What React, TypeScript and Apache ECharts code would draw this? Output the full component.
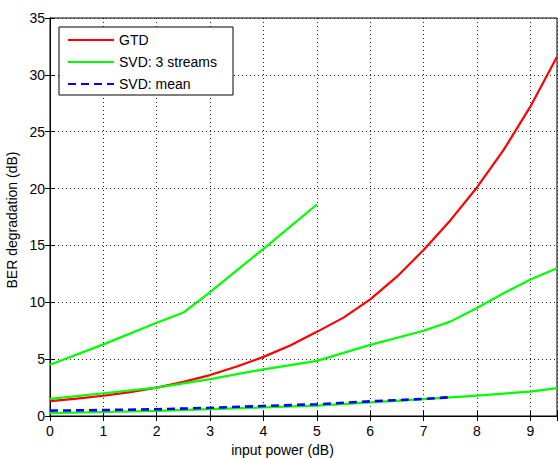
import React, { useEffect, useRef } from "react";
import * as echarts from "echarts";

const gtdX = [0, 0.5, 1, 1.5, 2, 2.5, 3, 3.5, 4, 4.5, 5, 5.5, 6, 6.5, 7, 7.5, 8, 8.5, 9, 9.5];
const gtdY = [1.3, 1.52, 1.78, 2.1, 2.5, 3.0, 3.6, 4.35, 5.2, 6.2, 7.4, 8.65, 10.25, 12.25, 14.6, 17.2, 20.1, 23.4, 27.2, 31.6];

const s1X = [0, 1, 2, 2.5, 3, 3.5, 4, 4.5, 5];
const s1Y = [4.5, 6.3, 8.2, 9.1, 10.9, 12.8, 14.7, 16.65, 18.6];

const s2X = [0, 1, 2, 3, 4, 5, 6, 7, 7.5, 8, 8.5, 9, 9.5];
const s2Y = [1.5, 2.0, 2.5, 3.25, 4.1, 4.85, 6.25, 7.5, 8.3, 9.5, 10.8, 12.0, 13.0];

const s3X = [0, 1, 2, 3, 4, 5, 6, 7, 8, 9, 9.5];
const s3Y = [0.25, 0.35, 0.45, 0.6, 0.75, 0.92, 1.2, 1.48, 1.8, 2.15, 2.45];

const meanX = [0, 1, 2, 3, 4, 5, 6, 7, 7.5];
const meanY = [0.47, 0.52, 0.59, 0.72, 0.88, 1.03, 1.29, 1.5, 1.65];

const xTicks = [0, 1, 2, 3, 4, 5, 6, 7, 8, 9];
const legendNames = ["GTD", "SVD: 3 streams", "SVD: mean"];

const pairs = (xs: number[], ys: number[]) => xs.map((x, i) => [x, ys[i]]);

const FONT = "'Liberation Sans', Arial, Helvetica, sans-serif";
const FS = 14;

export default function App() {
  const ref = useRef<HTMLDivElement>(null);
  useEffect(() => {
    if (!ref.current) return;
    const chart = echarts.init(ref.current, null, { renderer: "svg" });
    const gridLine = { show: true, lineStyle: { color: "#222", width: 1, type: [1, 3] as any } };
    const green = { color: "#00ff00", width: 2.2 };
    const tick = { show: true, inside: true, length: 5, lineStyle: { color: "#000" } };
    chart.setOption({
      animation: false,
      backgroundColor: "#fff",
      textStyle: { fontFamily: FONT },
      grid: {
        left: 50,
        right: 1,
        top: 18,
        bottom: 42,
        containLabel: false,
        outerBoundsMode: "none",
        show: true,
        borderColor: "#000",
        borderWidth: 1,
        backgroundColor: "#fff",
      },
      legend: {
        data: legendNames,
        orient: "vertical",
        left: 59,
        top: 27,
        itemWidth: 46,
        itemHeight: 14,
        itemGap: 8,
        padding: [6, 16, 4, 8],
        itemStyle: { opacity: 0 },
        backgroundColor: "#fff",
        borderColor: "#000",
        borderWidth: 1,
        borderRadius: 0,
        textStyle: { fontFamily: FONT, fontSize: FS, color: "#000" },
      },
      xAxis: [
        {
          type: "value",
          min: 0,
          max: 9.5,
          interval: 1,
          name: "input power (dB)",
          nameLocation: "middle",
          nameGap: 27,
          nameTextStyle: { fontFamily: FONT, fontSize: FS, color: "#000", padding: [0, 42, 0, 0] },
          axisLine: { show: true, lineStyle: { color: "#000" } },
          axisTick: tick,
          axisLabel: {
            color: "#000",
            fontSize: FS,
            fontFamily: FONT,
            margin: 8,
            formatter: (v: number) => (xTicks.includes(v) ? String(v) : ""),
          },
          splitLine: gridLine,
        },
        {
          type: "value",
          position: "top",
          min: 0,
          max: 9.5,
          interval: 1,
          axisLine: { show: true, lineStyle: { color: "#000" } },
          axisTick: tick,
          axisLabel: { show: false },
          splitLine: { show: false },
        },
      ],
      yAxis: [
        {
          type: "value",
          min: 0,
          max: 35,
          interval: 5,
          name: "BER degradation (dB)",
          nameLocation: "middle",
          nameGap: 27,
          nameTextStyle: { fontFamily: FONT, fontSize: FS, color: "#000", padding: [0, 6, 0, 0] },
          axisLine: { show: true, lineStyle: { color: "#000" } },
          axisTick: tick,
          axisLabel: { color: "#000", fontSize: FS, fontFamily: FONT, margin: 5 },
          splitLine: gridLine,
        },
        {
          type: "value",
          position: "right",
          min: 0,
          max: 35,
          interval: 5,
          axisLine: { show: true, lineStyle: { color: "#000" } },
          axisTick: tick,
          axisLabel: { show: false },
          splitLine: { show: false },
        },
      ],
      series: [
        {
          name: "GTD",
          type: "line",
          symbol: "none",
          color: "#ff0000",
          lineStyle: { color: "#ff0000", width: 2.2 },
          data: pairs(gtdX, gtdY),
        },
        { name: "SVD: 3 streams", type: "line", symbol: "none", color: "#00ff00", lineStyle: green, data: pairs(s1X, s1Y) },
        { name: "SVD: 3 streams", type: "line", symbol: "none", color: "#00ff00", lineStyle: green, data: pairs(s2X, s2Y) },
        { name: "SVD: 3 streams", type: "line", symbol: "none", color: "#00ff00", lineStyle: green, data: pairs(s3X, s3Y) },
        {
          name: "SVD: mean",
          type: "line",
          symbol: "none",
          color: "#0000ff",
          lineStyle: { color: "#0000ff", width: 2.6, type: [8, 5] as any },
          data: pairs(meanX, meanY),
        },
      ],
    });
    return () => chart.dispose();
  }, []);
  return <div ref={ref} style={{ position: "fixed", left: 0, top: 0, width: 558, height: 458 }} />;
}
